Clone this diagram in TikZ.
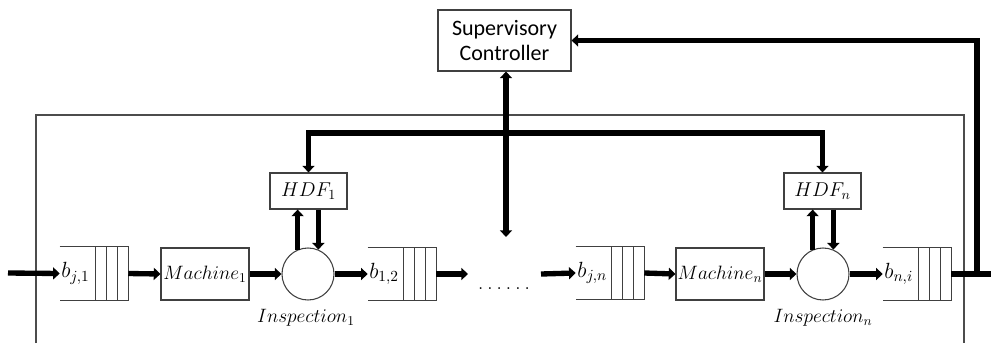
\RequirePackage{fix-cm}
\documentclass[tikz,border=0pt]{standalone}
\usepackage{fontspec}
\setsansfont{Carlito}
\usetikzlibrary{arrows.meta}
\tikzset{
  thinline/.style={draw=black!75, line width=0.8pt},
  frame/.style={draw=black!70, line width=0.8pt},
  boxnode/.style={thinline, rectangle, inner sep=0pt},
  ctrlbox/.style={boxnode, minimum width=99.75pt, minimum height=45.75pt, align=center,
     font=\sffamily\fontsize{16.5}{19}\selectfont},
  hdfbox/.style={boxnode, minimum width=57.75pt, minimum height=27pt, font=\fontsize{15}{17}\selectfont},
  machbox/.style={boxnode, minimum width=66pt, minimum height=39pt},
  insp/.style={thinline, circle, minimum size=39pt, inner sep=0pt},
  qbox/.style={rectangle, minimum width=51pt, minimum height=39.75pt, inner sep=0pt},
  qlabel/.style={anchor=west, inner sep=1pt, font=\fontsize{16.5}{18}\selectfont},
  bar/.style={line width=4pt},
  flow/.style={line width=4pt, -{Triangle[length=5pt,width=9pt]}},
  flowboth/.style={line width=4pt, {Triangle[length=5pt,width=9pt]}-{Triangle[length=5pt,width=9pt]}},
}
\newcommand\myqueue[1]{%
  \draw[thinline] (#1.north west) -- (#1.north east) -- (#1.south east) -- (#1.south west);
  \foreach \k in {8.25,16.5,24.75}{\draw[thinline] ([xshift=-\k pt]#1.north east) -- ([xshift=-\k pt]#1.south east);}}
\begin{document}
\begin{tikzpicture}[x=0.75pt,y=-0.75pt, font=\fontsize{14.5}{17}\selectfont]
\useasboundingbox (0,0) rectangle (991,343);
\draw[frame] (36,343) -- (36,115) -- (964,115) -- (964,343);

\node[ctrlbox] (ctrl) at (504.5,40.5) {Supervisory\\Controller};
\node[hdfbox] (hdf1) at (308.5,191) {$HDF_1$};
\node[hdfbox] (hdfn) at (822.5,191) {$HDF_n$};
\node[machbox] (m1) at (205,274) {$Machine_1$};
\node[machbox] (mn) at (720,274) {$Machine_n$};
\node[insp] (i1) at (308,274) {};
\node[insp] (in) at (823,274) {};
\node (i1lab) at (306,318) {$Inspection_1$};
\node (inlab) at (823,318) {$Inspection_n$};

\node[qbox] (q1) at (94,273.5) {};
\node[qbox] (q2) at (402,274) {};
\node[qbox] (q3) at (610,273) {};
\node[qbox] (qn) at (917,274) {};
\myqueue{q1}\myqueue{q2}\myqueue{q3}\myqueue{qn}
\node[qlabel] (l1) at (q1.west) {$b_{j,1}$};
\node[qlabel] (l2) at (q2.west) {$b_{1,2}$};
\node[qlabel] (l3) at (q3.west) {$b_{j,n}$};
\node[qlabel] (ln) at (qn.west) {$b_{n,i}$};

\node (dots) at (504,289) {.\hspace{3pt}.\hspace{3pt}.\hspace{3pt}.\hspace{3pt}.\hspace{3pt}.};

\coordinate (in0) at (8,273);
\coordinate (c2) at (468,274);
\coordinate (c3) at (541,274);
\coordinate (fb) at (977,274);
\coordinate (edge) at (991,274);
\coordinate (cb) at (506,237);
\coordinate (bus) at (506,133);

\draw[flow] (in0) -- (q1.west);
\draw[flow] (q1.east) -- (m1.west);
\draw[flow] (m1.east) -- (i1.west);
\draw[flow] (i1.east) -- (q2.west);
\draw[flow] (q2.east) -- (c2);
\draw[flow] (c3) -- (q3.west);
\draw[flow] (q3.east) -- (mn.west);
\draw[flow] (mn.east) -- (in.west);
\draw[flow] (in.east) -- (qn.west);
\draw[bar] (qn.east) -- (edge);
\draw[flow] (fb) |- (ctrl.east);
\draw[flowboth] (cb) -- (cb |- ctrl.south);
\draw[flowboth] (hdf1.north) |- (bus) -| (hdfn.north);

\draw[flow] (i1.113) -- (i1.113 |- hdf1.south);
\draw[flow] (hdf1.south -| i1.67) -- (i1.67);
\draw[flow] (in.113) -- (in.113 |- hdfn.south);
\draw[flow] (hdfn.south -| in.67) -- (in.67);
\end{tikzpicture}
\end{document}
